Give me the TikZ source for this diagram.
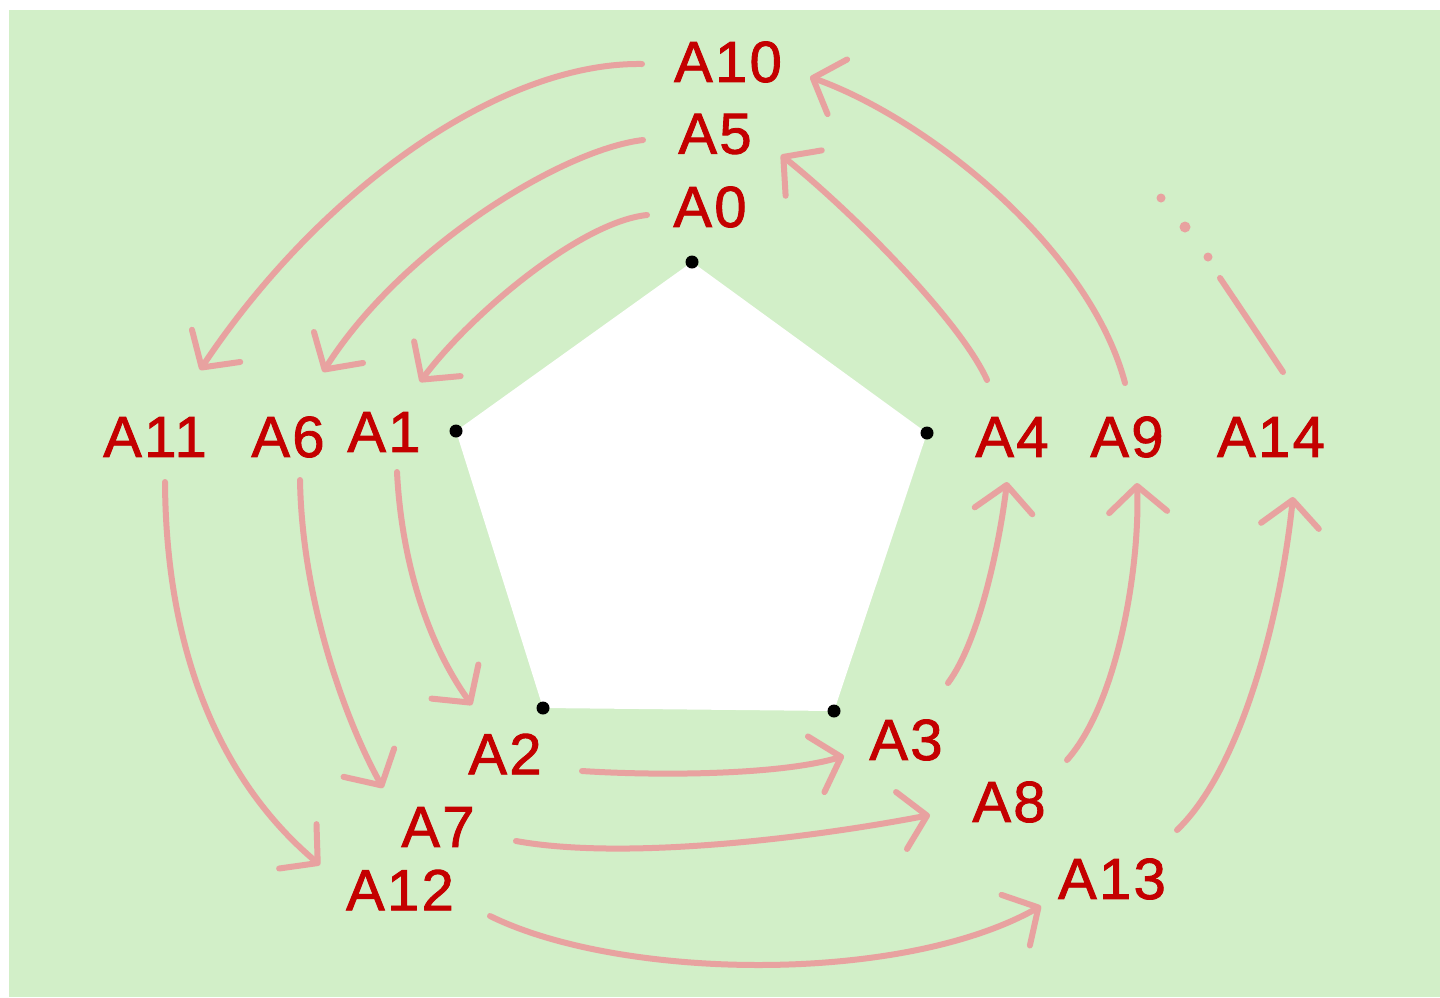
\documentclass[tikz,border=0pt]{standalone}
\usepackage{fontspec}
\setmainfont{Liberation Sans}
\newfontfamily\lblfont{Liberation Sans}[FakeBold=1.5,LetterSpace=4]
\usetikzlibrary{arrows.meta}
\definecolor{bg}{RGB}{210,239,200}
\definecolor{lblred}{RGB}{196,0,0}
\definecolor{arrpink}{RGB}{232,162,160}
\begin{document}
\begin{tikzpicture}[x=1pt,y=-1pt,
  lbl/.style={text=lblred,font=\lblfont\fontsize{58}{60}\selectfont,inner sep=0pt},
  conn/.style={draw=arrpink,line width=6pt,line cap=round,line join=round,
    -{Straight Barb[length=26pt,width=58pt,round]}},
  plain/.style={draw=arrpink,line width=6pt,line cap=round},
  vdot/.style={circle,fill=black,inner sep=0pt,minimum size=13pt},
  pdot/.style={circle,fill=arrpink,inner sep=0pt,minimum size=9pt}]
\useasboundingbox (0,0) rectangle (1440,997);
\fill[white] (0,0) rectangle (1440,997);
\fill[bg] (9,10) rectangle (1440,997);
% pentagon
\coordinate (p0) at (692,262);
\coordinate (p1) at (456,431);
\coordinate (p2) at (543,708);
\coordinate (p3) at (834,711);
\coordinate (p4) at (927,433);
\fill[white] (p0) -- (p1) -- (p2) -- (p3) -- (p4) -- cycle;
\foreach \p in {p0,p1,p2,p3,p4} \node[vdot] at (\p) {};
% labels
\node[lbl] (a10) at (728,62) {A10};
\node[lbl] (a5) at (715,134) {A5};
\node[lbl] (a0) at (710,207) {A0};
\node[lbl] (a11) at (155,437) {A11};
\node[lbl] (a6) at (288,437) {A6};
\node[lbl] (a1) at (384,432) {A1};
\node[lbl] (a4) at (1012,437) {A4};
\node[lbl] (a9) at (1127,437) {A9};
\node[lbl] (a14) at (1271,437) {A14};
\node[lbl] (a2) at (505,754) {A2};
\node[lbl] (a3) at (906,740) {A3};
\node[lbl] (a7) at (438,827) {A7};
\node[lbl] (a8) at (1009,802) {A8};
\node[lbl] (a12) at (400,890) {A12};
\node[lbl] (a13) at (1112,879) {A13};
% top to left
\draw[conn] ([shift={(-86,2)}]a10.center) .. controls (500,62) and (320,190) .. ([shift={(45,-67)}]a11.center);
\draw[conn] ([shift={(-72,6)}]a5.center) .. controls (560,150) and (400,250) .. ([shift={(35,-65)}]a6.center);
\draw[conn] ([shift={(-63,8)}]a0.center) .. controls (580,222) and (470,315) .. ([shift={(36,-50)}]a1.center);
% left to bottom
\draw[conn] ([shift={(10,45)}]a11.center) .. controls (166,660) and (225,785) .. ([shift={(-80,-25)}]a12.center);
\draw[conn] ([shift={(12,43)}]a6.center) .. controls (302,600) and (345,720) .. ([shift={(-55,-39)}]a7.center);
\draw[conn] ([shift={(13,40)}]a1.center) .. controls (402,570) and (432,650) .. ([shift={(-33,-49)}]a2.center);
% bottom to bottom right
\draw[conn] ([shift={(77,17)}]a2.center) .. controls (660,776) and (780,775) .. ([shift={(-62,16)}]a3.center);
\draw[conn] ([shift={(78,14)}]a7.center) .. controls (620,860) and (800,840) .. ([shift={(-79,13)}]a8.center);
\draw[conn] ([shift={(90,26)}]a12.center) .. controls (620,980) and (900,985) .. ([shift={(-71,27)}]a13.center);
% bottom right to right
\draw[conn] ([shift={(42,-57)}]a3.center) .. controls (980,640) and (1000,540) .. ([shift={(-5,45)}]a4.center);
\draw[conn] ([shift={(58,-42)}]a8.center) .. controls (1120,700) and (1140,560) .. ([shift={(10,46)}]a9.center);
\draw[conn] ([shift={(65,-49)}]a13.center) .. controls (1240,770) and (1280,620) .. ([shift={(22,60)}]a14.center);
% right to top
\draw[conn] ([shift={(-25,-57)}]a4.center) .. controls (960,320) and (850,210) .. ([shift={(66,21)}]a5.center);
\draw[conn] ([shift={(-2,-54)}]a9.center) .. controls (1090,250) and (930,120) .. ([shift={(82,15)}]a10.center);
% A14 continuation
\coordinate (cont) at (1220,278);
\draw[plain] ([shift={(12,-65)}]a14.center) .. controls (1255,330) .. (cont);
\node[pdot] (d1) at (1208,257) {};
\node[pdot,minimum size=11pt] (d2) at (1185,227) {};
\node[pdot] (d3) at (1161,198) {};
\end{tikzpicture}
\end{document}
